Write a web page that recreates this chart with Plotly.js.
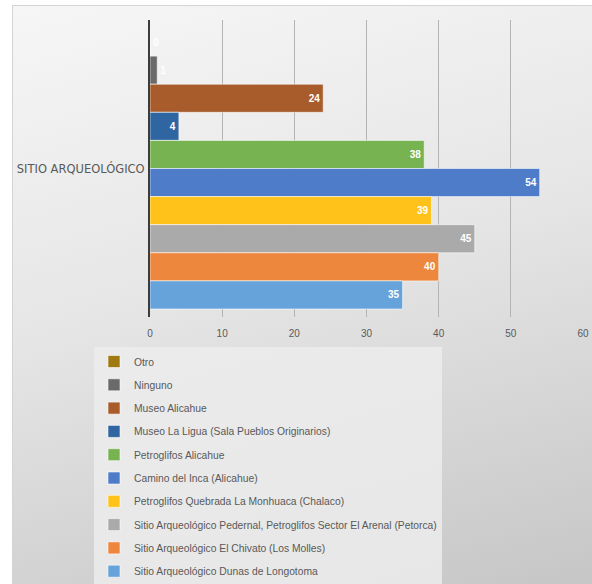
<!DOCTYPE html>
<html>
<head>
<meta charset="utf-8">
<script src="https://cdn.plot.ly/plotly-3.0.1.min.js"></script>
<style>
  html, body { margin:0; padding:0; background:#ffffff; }
  #frame { position:absolute; left:12px; top:5px; width:580px; height:579px;
           box-sizing:border-box; border-left:1px solid #d4d4d4; border-top:1px solid #d4d4d4;
           background:linear-gradient(165deg, #f6f6f6 0%, #e6e6e6 45%, #c6c6c6 100%); }
  #chart { position:absolute; left:0; top:0; width:592px; height:584px; }
</style>
</head>
<body>
<div id="frame"></div>
<div id="chart"></div>
<script>
// Legend order, top to bottom (also bar order, top to bottom)
var seriesNames = [
  "Otro",
  "Ninguno",
  "Museo Alicahue",
  "Museo La Ligua (Sala Pueblos Originarios)",
  "Petroglifos Alicahue",
  "Camino del Inca (Alicahue)",
  "Petroglifos Quebrada La Monhuaca (Chalaco)",
  "Sitio Arqueológico Pedernal, Petroglifos Sector El Arenal (Petorca)",
  "Sitio Arqueológico El Chivato (Los Molles)",
  "Sitio Arqueológico Dunas de Longotoma"
];
var seriesValues = [0, 1, 24, 4, 38, 54, 39, 45, 40, 35];
var seriesColors = ["#a07a10", "#6a6a6a", "#a85c2c", "#2f65a0", "#78b352", "#4f7cc9",
                    "#ffc21a", "#aaaaaa", "#ee873e", "#66a3da"];
var category = ["SITIO ARQUEOLÓGICO"];
var xTicks = [0, 10, 20, 30, 40, 50, 60];

var FONT = "Liberation Sans, Arial, sans-serif";
var traces = [];
for (var i = 0; i < seriesNames.length; i++) {
  traces.push({
    type: "bar",
    orientation: "h",
    name: seriesNames[i],
    y: category,
    x: [seriesValues[i]],
    text: [String(seriesValues[i])],
    textposition: seriesValues[i] < 3 ? "outside" : "inside",
    insidetextanchor: "end",
    constraintext: "none",
    textfont: { family: FONT, size: 10, color: "#ffffff", weight: "bold" },
    outsidetextfont: { family: FONT, size: 10, color: "#ffffff", weight: "bold" },
    cliponaxis: false,
    marker: { color: seriesColors[i], line: { color: "rgba(255,255,255,0.55)", width: 1 } },
    legendgroup: "g" + i,
    hoverinfo: "name+x"
  });
}

var layout = {
  width: 592, height: 584,
  paper_bgcolor: "rgba(0,0,0,0)",
  plot_bgcolor: "rgba(0,0,0,0)",
  margin: { l: 150, r: 9, t: 20, b: 267, pad: 0, autoexpand: false },
  barmode: "group",
  bargap: 0.054,
  bargroupgap: 0,
  font: { family: FONT, color: "#595959", size: 10 },
  xaxis: {
    range: [0, 60],
    tickvals: xTicks,
    ticktext: xTicks.map(String),
    showgrid: true, gridcolor: "#b4b4b4", gridwidth: 1,
    zeroline: false,
    ticks: "",
    ticklabelstandoff: 9,
    tickfont: { family: FONT, size: 10, color: "#595959" },
    showline: false,
    automargin: false,
    fixedrange: true
  },
  yaxis: {
    type: "category",
    autorange: "reversed",
    showline: true, linecolor: "#3c3c3c", linewidth: 2,
    ticks: "", ticklabelstandoff: 1,
    tickfont: { family: "DejaVu Sans, sans-serif", size: 11.5, color: "#595959" },
    showgrid: false, zeroline: false,
    automargin: false,
    fixedrange: true
  },
  showlegend: true,
  legend: {
    xref: "container", yref: "container",
    x: 94 / 592, y: 1 - 347 / 584,
    xanchor: "left", yanchor: "top",
    traceorder: "grouped",
    tracegroupgap: 4.3,
    bgcolor: "rgba(236,236,236,0.85)",
    font: { family: FONT, size: 10.3, color: "#595959" },
    itemwidth: 30
  }
};

Plotly.newPlot("chart", traces, layout, { displayModeBar: false, staticPlot: true });
</script>
</body>
</html>
